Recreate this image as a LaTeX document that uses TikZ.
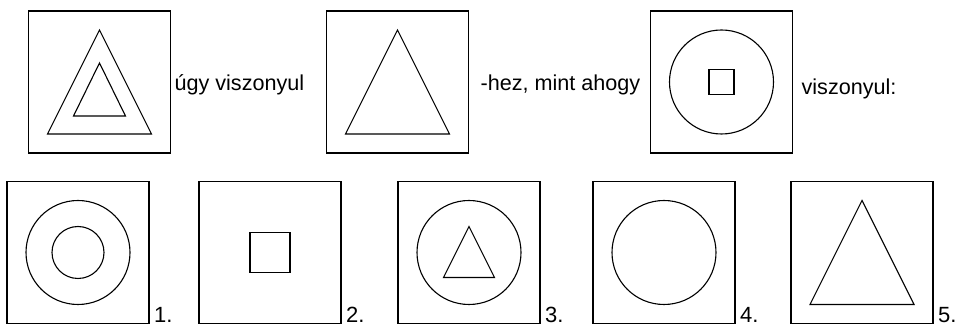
\documentclass[tikz,border=0pt]{standalone}
\usepackage{fontspec}
\setmainfont{Liberation Sans}
\usetikzlibrary{positioning,calc}

\tikzset{
  frame/.style={draw, line width=0.7pt, minimum size=71pt, inner sep=0pt},
  fig/.style={line width=0.55pt},
  lbl/.style={inner sep=0pt, anchor=base west, font=\fontsize{10.8}{13}\selectfont},
  num/.style={inner sep=0pt, anchor=base west, font=\fontsize{11}{12}\selectfont}
}

\begin{document}
\begin{tikzpicture}[x=0.5pt, y=-0.5pt]
  \useasboundingbox (0,0) rectangle (959,325);

  % question row
  \node[frame] (qa) at (99.5,82) {};
  \draw[fig] (qa.center) ++(0,-52) -- ++(52,104) -- ++(-104,0) -- cycle;
  \draw[fig] (qa.center) ++(0,-19) -- ++(26,53) -- ++(-52,0) -- cycle;
  \node[lbl, right=1.5pt of qa, anchor=base west, yshift=-4.5pt] (t1) {úgy viszonyul};

  \node[frame] (qb) at (397.5,82) {};
  \draw[fig] (qb.center) ++(0,-52) -- ++(52,104) -- ++(-104,0) -- cycle;
  \node[lbl, right=5.5pt of qb, anchor=base west, yshift=-4.5pt] (t2) {-hez, mint ahogy};

  \node[frame] (qc) at (721.5,82) {};
  \draw[fig] (qc.center) circle[radius=26pt];
  \draw[fig] ($(qc.center)+(-12.5,-12.5)$) rectangle ++(25,25);
  \node[lbl, right=4pt of qc, anchor=base west, yshift=-6.5pt] (t3) {viszonyul:};

  % answers
  \foreach \i/\x in {1/78,2/270,3/469,4/664,5/862} {
    \node[frame] (a\i) at (\x,252.5) {};
    \node[num] (n\i) at ([xshift=2pt,yshift=1pt]a\i.south east) {\i.};
  }
  \draw[fig] (a1.center) circle[radius=26pt];
  \draw[fig] (a1.center) circle[radius=13pt];
  \draw[fig] ($(a2.center)+(-20,-20)$) rectangle ++(40,40);
  \draw[fig] (a3.center) circle[radius=26pt];
  \draw[fig] (a3.center) ++(0,-26) -- ++(25.5,51) -- ++(-51,0) -- cycle;
  \draw[fig] (a4.center) circle[radius=26pt];
  \draw[fig] (a5.center) ++(0,-52) -- ++(52,104) -- ++(-104,0) -- cycle;
\end{tikzpicture}
\end{document}
